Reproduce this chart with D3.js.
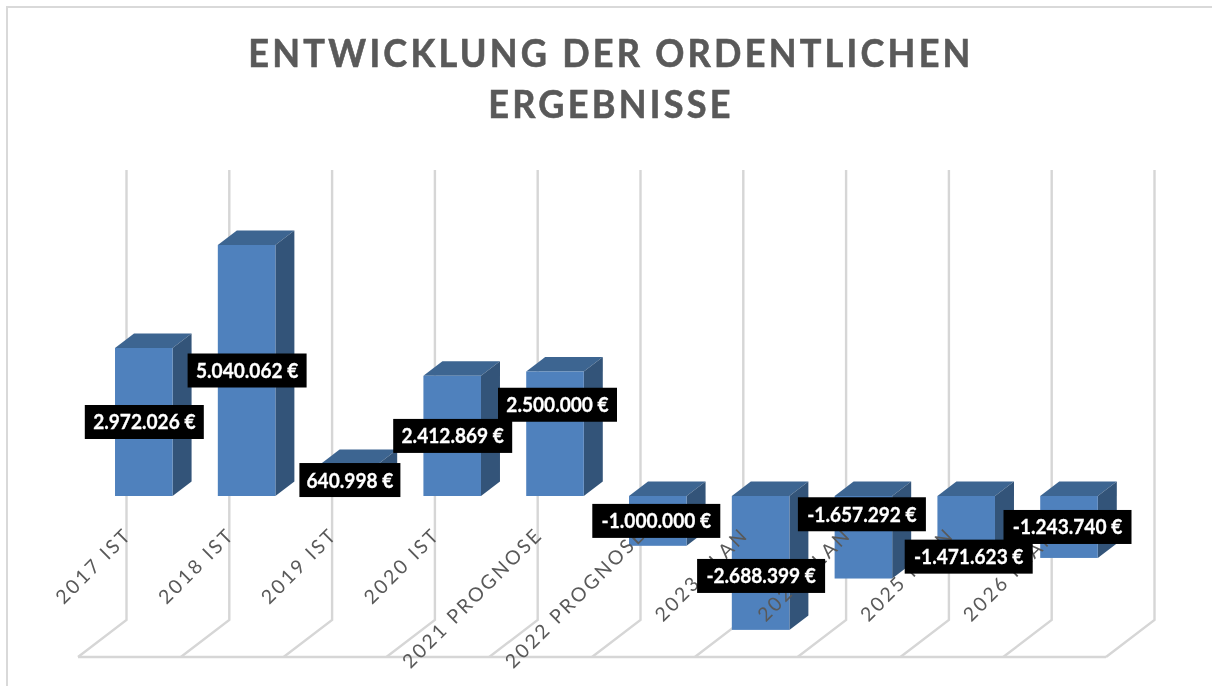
<!DOCTYPE html>
<html><head><meta charset="utf-8">
<script src="https://cdn.jsdelivr.net/npm/d3@7"></script>
<style>html,body{margin:0;padding:0;background:#fff}svg{display:block;filter:blur(0.4px)}text{font-family:Lato,sans-serif}</style>
</head><body><svg id="c" width="1212" height="686"></svg>
<script>
const titleLines = ["ENTWICKLUNG DER ORDENTLICHEN", "ERGEBNISSE"];
const categories = ["2017 IST","2018 IST","2019 IST","2020 IST","2021 PROGNOSE","2022 PROGNOSE","2023 PLAN","2024 PLAN","2025 PLAN","2026 PLAN"];
const values = [2972026,5040062,640998,2412869,2500000,-1000000,-2688399,-1657292,-1471623,-1243740];
const labelTexts = ["2.972.026 €","5.040.062 €","640.998 €","2.412.869 €","2.500.000 €","-1.000.000 €","-2.688.399 €","-1.657.292 €","-1.471.623 €","-1.243.740 €"];
// Layout only: manual shifts of the data labels
const labelShift = [0,0,0,0,-29,0,13,-23,24,0];
const labelShiftX = [0,0,0,0,2,-2,0,-2,2,-2];

const svg = d3.select("#c");
const zeroY = 496, pxPerUnit = 4.98e-5;
const y = d3.scaleLinear().domain([-3e6,6e6]).range([zeroY+3e6*pxPerUnit, zeroY-6e6*pxPerUnit]);
const x = d3.scaleBand().domain(categories).range([92.4,1120.4]).paddingInner(0.44).paddingOuter(0.22);
const step = x.step(), dx = 19, dy = 14.5;

// chart frame
svg.append("path").attr("d","M7,686V7H1212").attr("fill","none").attr("stroke","#d9d9d9").attr("stroke-width",2);

// walls and floor
const grid = svg.append("g").attr("fill","none").attr("stroke","#d6d6d6").attr("stroke-width",2.4);
const gridIdx = d3.range(categories.length+1);
const backX = i => 126.5 + i*step, floorX = i => 78 + i*step;
grid.selectAll("path.g").data(gridIdx).join("path").attr("class","g")
  .attr("d", i => `M${backX(i)},170V620L${floorX(i)},657`);
grid.append("path").attr("d",`M${floorX(0)},657H${floorX(categories.length)}`);

// bars
const bars = svg.append("g").selectAll("g").data(values).join("g");
const bx = (d,i) => x(categories[i]), bw = x.bandwidth();
bars.append("path").attr("fill","#3d6591").attr("d",(d,i)=>{
  const t = Math.min(y(d),y(0)), l = bx(d,i);
  return `M${l},${t}l${dx},${-dy}h${bw}l${-dx},${dy}z`;
});
bars.append("path").attr("fill","#335479").attr("d",(d,i)=>{
  const t = Math.min(y(d),y(0)), b = Math.max(y(d),y(0)), r = bx(d,i)+bw;
  return `M${r},${t}l${dx},${-dy}V${b-dy}l${-dx},${dy}z`;
});
bars.append("rect").attr("fill","#4f81bd")
  .attr("x",bx).attr("width",bw)
  .attr("y",d=>Math.min(y(d),y(0))).attr("height",d=>Math.abs(y(d)-y(0)));

// category labels
svg.append("g").selectAll("text").data(categories).join("text")
  .attr("transform",(d,i)=>`translate(${x(d)+bw/2-11},536) rotate(-45)`)
  .attr("text-anchor","end")
  .attr("font-size",19.5).attr("letter-spacing",2.5).attr("fill","#595959")
  .text(d=>d);

// data labels
const lab = svg.append("g").selectAll("g").data(values).join("g")
  .attr("transform",(d,i)=>`translate(${x(categories[i])+bw/2+0.5+labelShiftX[i]},${(y(d)+y(0))/2+labelShift[i]})`);
lab.append("rect").attr("fill","#000").attr("y",-17).attr("height",34)
  .attr("x",(d,i)=>-(labelTexts[i].length*9+20)/2).attr("width",(d,i)=>labelTexts[i].length*9+20);
lab.append("text").attr("text-anchor","middle").attr("y",7.5).attr("fill","#fff")
  .attr("transform","scale(0.91,1)")
  .attr("stroke","#fff").attr("stroke-width",0.3)
  .attr("font-size",21).attr("font-weight",700).text((d,i)=>labelTexts[i]);

// title
svg.append("g").selectAll("text").data(titleLines).join("text")
  .attr("transform",(d,i)=>`translate(611,${67+i*51}) scale(0.95,1)`)
  .attr("text-anchor","middle").attr("font-size",38).attr("font-weight",700)
  .attr("stroke","#595959").attr("stroke-width",0.6)
  .attr("letter-spacing",3.4).attr("fill","#595959").text(d=>d);
</script></body></html>
